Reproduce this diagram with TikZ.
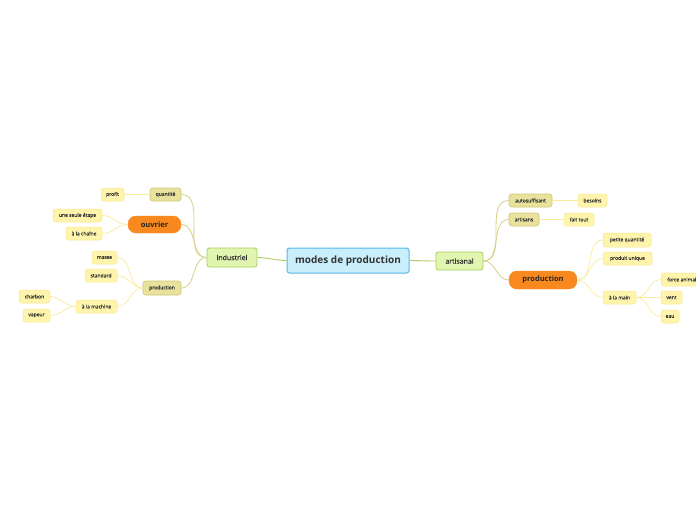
\documentclass[tikz,border=0pt]{standalone}
\usepackage{fontspec}
\setmainfont{Open Sans}
\newfontfamily\semib[FakeBold=1.2]{Open Sans}
\newfontfamily\smallf[FakeBold=0.4]{Open Sans}
\definecolor{txt}{HTML}{333333}
\definecolor{cfill}{HTML}{C9EEFC}
\definecolor{cdraw}{HTML}{5AB6E6}
\definecolor{gfill}{HTML}{E0F5B0}
\definecolor{gdraw}{HTML}{A5D15A}
\definecolor{ofill}{HTML}{E8E29C}
\definecolor{odraw}{HTML}{CFC777}
\definecolor{yfill}{HTML}{FFF4AC}
\definecolor{ydraw}{HTML}{FBE88F}
\definecolor{orng}{HTML}{F7891E}
\definecolor{lgreen}{HTML}{AECB6A}
\definecolor{lolive}{HTML}{D8D08C}
\definecolor{lyellow}{HTML}{FBEB9E}
\tikzset{
  base/.style={text=txt, inner sep=0pt, align=center, rounded corners=2.5pt},
  central/.style={base, fill=cfill, draw=cdraw, line width=1pt, font=\fontsize{10}{12}\selectfont\bfseries},
  lvone/.style={base, fill=gfill, draw=gdraw, line width=0.8pt, font=\semib\fontsize{7}{9}\selectfont},
  olive/.style={base, fill=ofill, draw=odraw, line width=0.6pt, font=\smallf\fontsize{5}{6}\selectfont},
  leaf/.style={base, fill=yfill, draw=ydraw, line width=0.5pt, font=\smallf\fontsize{5}{6}\selectfont},
  hot/.style={base, fill=orng, draw=orng, rounded corners=8pt, text=black!85, font=\fontsize{7.5}{9}\selectfont\bfseries},
  cg/.style={draw=lgreen, line width=0.9pt},
  co/.style={draw=lolive, line width=0.8pt},
  cy/.style={draw=lyellow, line width=0.7pt},
  sz/.style 2 args={minimum width=#1pt, minimum height=#2pt}
}
\begin{document}
\begin{tikzpicture}[x=1pt,y=-1pt]
\clip (0,0) rectangle (696,520);
\fill[white] (0,0) rectangle (696,520);
% nodes
\node[central, sz={122}{25}] (root) at (348,260.5) {modes de production};
\node[lvone, sz={50}{19}] (ind) at (232,257.5) {industriel};
\node[lvone, sz={47}{18}] (art) at (459.5,261) {artisanal};
% left side
\node[olive, sz={31}{13}] (quant) at (165.5,194.5) {quantité};
\node[leaf, sz={23}{13}] (profit) at (112.5,194.5) {profit};
\node[hot, sz={53}{17}] (ouv) at (154.5,224.5) {ouvrier};
\node[leaf, sz={49}{13}] (etape) at (77.5,215.5) {une seule étape};
\node[leaf, sz={36}{13}] (chaine) at (84,233.5) {à la chaîne};
\node[olive, sz={38}{14}] (prodl) at (162,288) {production};
\node[leaf, sz={25}{13}] (masse) at (104.5,257.5) {masse};
\node[leaf, sz={32}{13}] (std) at (101,275.5) {standard};
\node[leaf, sz={41}{13}] (mach) at (96.5,306.5) {à la machine};
\node[leaf, sz={31}{13}] (charb) at (34.5,296.5) {charbon};
\node[leaf, sz={27}{13}] (vap) at (36.5,315.5) {vapeur};
% right side
\node[olive, sz={43}{13}] (auto) at (530.5,200.5) {autosuffisant};
\node[leaf, sz={29}{13}] (bes) at (592.5,200.5) {besoins};
\node[olive, sz={30}{13}] (arts) at (524,219.5) {artisans};
\node[leaf, sz={30}{13}] (fait) at (579,219.5) {fait tout};
\node[hot, sz={68}{18}] (prodr) at (543,280) {production};
\node[leaf, sz={48}{14}] (petite) at (627,240) {petite quantité};
\node[leaf, sz={49}{13}] (unique) at (627.5,258.5) {produit unique};
\node[leaf, sz={33}{13}] (main) at (619.5,297.5) {à la main};
\node[leaf, sz={44}{13}, anchor=west] (force) at (661,279.5) {force animale};
\node[leaf, sz={21}{13}] (vent) at (671.5,297.5) {vent};
\node[leaf, sz={18}{13}] (eau) at (670,316.5) {eau};
% connectors
\draw[cg] (root.west) to[out=180,in=0] (ind.east);
\draw[cg] (root.east) to[out=0,in=180] (art.west);
\draw[co] (ind.west) to[out=180,in=0] (quant.east);
\draw[co] (ind.west) to[out=180,in=0] (ouv.east);
\draw[co] (ind.west) to[out=180,in=0] (prodl.east);
\draw[cy] (quant.west) -- (profit.east);
\draw[cy] (ouv.west) to[out=180,in=0] (etape.east);
\draw[cy] (ouv.west) to[out=180,in=0] (chaine.east);
\draw[cy] (prodl.west) to[out=180,in=0] (masse.east);
\draw[cy] (prodl.west) to[out=180,in=0] (std.east);
\draw[cy] (prodl.west) to[out=180,in=0] (mach.east);
\draw[cy] (mach.west) to[out=180,in=0] (charb.east);
\draw[cy] (mach.west) to[out=180,in=0] (vap.east);
\draw[co] (art.east) to[out=0,in=180] (auto.west);
\draw[co] (art.east) to[out=0,in=180] (arts.west);
\draw[co] (art.east) to[out=0,in=180] (prodr.west);
\draw[cy] (auto.east) -- (bes.west);
\draw[cy] (arts.east) -- (fait.west);
\draw[cy] (prodr.east) to[out=0,in=180] (petite.west);
\draw[cy] (prodr.east) to[out=0,in=180] (unique.west);
\draw[cy] (prodr.east) to[out=0,in=180] (main.west);
\draw[cy] (main.east) to[out=0,in=180] (force.west);
\draw[cy] (main.east) to[out=0,in=180] (vent.west);
\draw[cy] (main.east) to[out=0,in=180] (eau.west);
\end{tikzpicture}
\end{document}
